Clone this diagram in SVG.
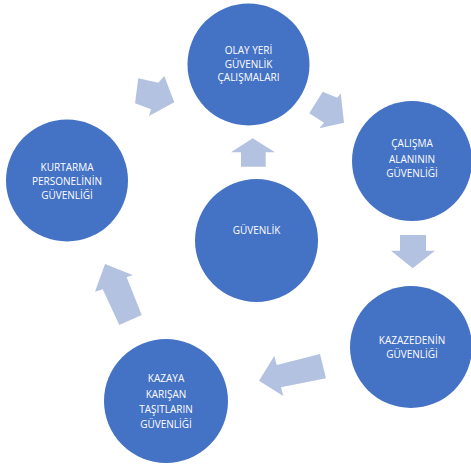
<svg xmlns="http://www.w3.org/2000/svg" width="471" height="466" viewBox="0 0 471 466">
<style>
.n{fill:#4472C4;}
.a{fill:#B4C2E2;}
.t{fill:#FFFFFF;font-family:"Open Sans","Liberation Sans",sans-serif;font-size:10px;text-anchor:middle;}
</style>
<rect width="471" height="466" fill="#FFFFFF"/>
<g id="connectors">
<polygon class="a" points="138.3,78.3 158.3,82.7 164.3,76 174.3,102.3 149,116 151,109.3 135,103.3"/>
<polygon class="a" points="322.7,91.7 337.3,97.7 340.7,93.3 344,122.7 319.3,128.3 324,122.7 309.3,113.3"/>
<polygon class="a" points="400,235 426,235 426,250.7 435,250.7 412.7,268.3 391,250.7 400,250.7"/>
<polygon class="a" points="320,354 326,378.3 281,387.3 283.3,396 259,380.7 274.3,356 276.7,365"/>
<polygon class="a" points="105,264 132.7,275 126.7,277.3 141.7,315 119.3,325 102.7,289.3 95,291.7"/>
<polygon class="a" points="252.7,138.3 275,152.3 265.7,152.3 265.7,166.7 241,166.7 241,152.3 231,152.3"/>
</g>
<g id="olay">
<circle class="n" cx="248.5" cy="64.5" r="61"/>
<text class="t" x="248.5" y="54">OLAY YERİ</text>
<text class="t" x="248.5" y="67.5">GÜVENLİK</text>
<text class="t" x="248.5" y="81">ÇALIŞMALARI</text>
</g>
<g id="calisma">
<circle class="n" cx="412" cy="161" r="60"/>
<text class="t" x="412" y="147">ÇALIŞMA</text>
<text class="t" x="412" y="162.5">ALANININ</text>
<text class="t" x="412" y="176.5">GÜVENLİĞİ</text>
</g>
<g id="kazazedenin">
<circle class="n" cx="411" cy="347" r="61"/>
<text class="t" x="412" y="343.5">KAZAZEDENİN</text>
<text class="t" x="412" y="357.5">GÜVENLİĞİ</text>
</g>
<g id="kazaya">
<circle class="n" cx="166" cy="401" r="62"/>
<text class="t" x="166" y="382">KAZAYA</text>
<text class="t" x="166" y="397.5">KARIŞAN</text>
<text class="t" x="166" y="412.5">TAŞITLARIN</text>
<text class="t" x="166" y="427.5">GÜVENLİĞİ</text>
</g>
<g id="kurtarma">
<circle class="n" cx="67" cy="180.5" r="61"/>
<text class="t" x="67" y="170.5">KURTARMA</text>
<text class="t" x="67" y="184.5">PERSONELİNİN</text>
<text class="t" x="67" y="198.5">GÜVENLİĞİ</text>
</g>
<g id="guvenlik">
<circle class="n" cx="256.5" cy="240.5" r="61.5"/>
<text class="t" x="256.5" y="233.5">GÜVENLİK</text>
</g>
</svg>
